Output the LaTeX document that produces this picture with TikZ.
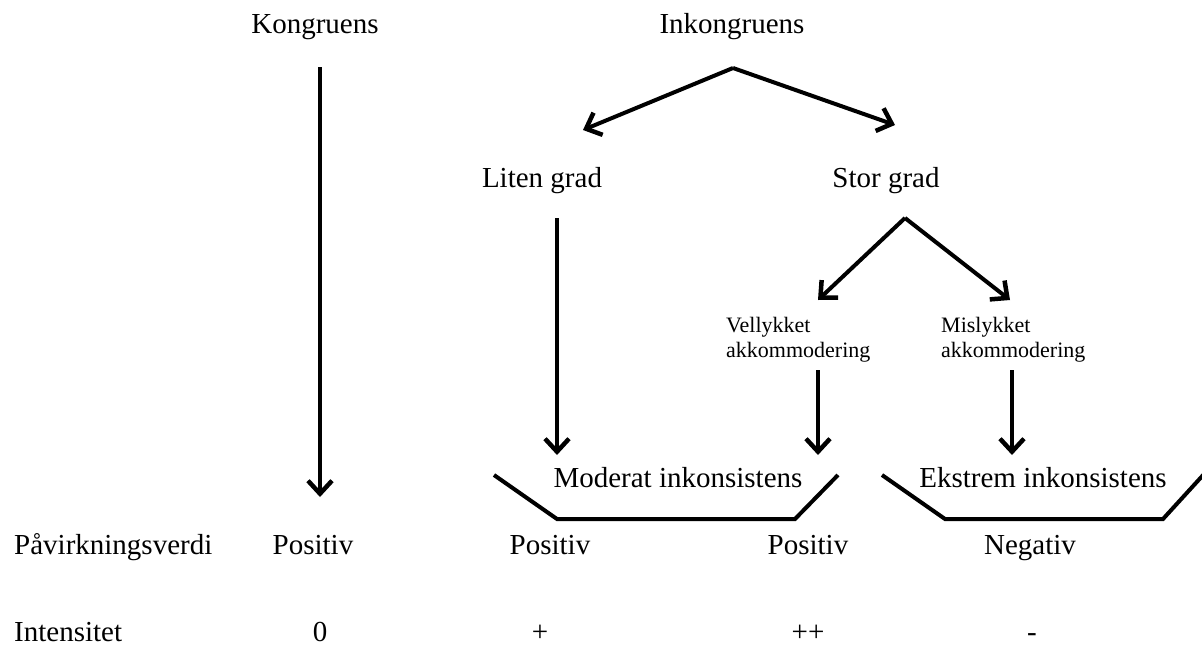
\documentclass[tikz,border=0pt]{standalone}
\usepackage{fontspec}
\setmainfont{Liberation Serif}
\usetikzlibrary{arrows.meta}
\tikzset{
  lbl/.style={inner sep=0pt, anchor=base, font=\fontsize{29}{34}\selectfont},
  lblL/.style={inner sep=0pt, anchor=base west, font=\fontsize{29}{34}\selectfont},
  small/.style={inner sep=0pt, anchor=north west, align=left, font=\fontsize{22}{25}\selectfont},
  arr/.style={line width=4pt, -{Straight Barb[length=13pt,width=24pt,line width=4.5pt]}},
  brk/.style={line width=4pt, line join=miter}
}
\begin{document}
\begin{tikzpicture}[x=1pt,y=-1pt]
\useasboundingbox (0,0) rectangle (1202,645);
% top labels
\node[lbl] (kong) at (315,33) {Kongruens};
\node[lbl] (inkong) at (732,33) {Inkongruens};
\node[lbl] (liten) at (542,187) {Liten grad};
\node[lbl] (stor) at (886,187) {Stor grad};
\node[small] (vell) at (726,317) {Vellykket\\akkommodering};
\node[small] (misl) at (941,317) {Mislykket\\akkommodering};
\node[lbl] (mod) at (678,487) {Moderat inkonsistens};
\node[lbl] (ekst) at (1043,487) {Ekstrem inkonsistens};
% rows
\node[lblL] (pav) at (14,554) {Påvirkningsverdi};
\node[lbl] (p1) at (313,554) {Positiv};
\node[lbl] (p2) at (550,554) {Positiv};
\node[lbl] (p3) at (808,554) {Positiv};
\node[lbl] (n4) at (1030,554) {Negativ};
\node[lblL] (int) at (14,641) {Intensitet};
\node[lbl] (i1) at (320,641) {0};
\node[lbl] (i2) at (540,641) {+};
\node[lbl] (i3) at (808,641) {++};
\node[lbl] (i4) at (1032,641) {-};
% coordinates
\coordinate (kongA) at (320,67);
\coordinate (kongB) at (320,497);
\coordinate (inkA) at (733,68);
\coordinate (inkL) at (583,130);
\coordinate (inkR) at (895,125);
\coordinate (litA) at (557,218);
\coordinate (litB) at (557,455);
\coordinate (storA) at (905,218);
\coordinate (storL) at (818,300);
\coordinate (storR) at (1010,300);
\coordinate (vellA) at (818,370);
\coordinate (vellB) at (818,455);
\coordinate (mislA) at (1012,370);
\coordinate (mislB) at (1012,455);
% arrows
\draw[arr] (kongA) -- (kongB);
\draw[arr] (inkA) -- (inkL);
\draw[arr] (inkA) -- (inkR);
\draw[arr] (litA) -- (litB);
\draw[arr] (storA) -- (storL);
\draw[arr] (storA) -- (storR);
\draw[arr] (vellA) -- (vellB);
\draw[arr] (mislA) -- (mislB);
% brackets
\draw[brk] (494,475) -- (557,519) -- (795,519) -- (838,475);
\draw[brk] (882,475) -- (945,519) -- (1163,519) -- (1205,473);
\end{tikzpicture}
\end{document}
